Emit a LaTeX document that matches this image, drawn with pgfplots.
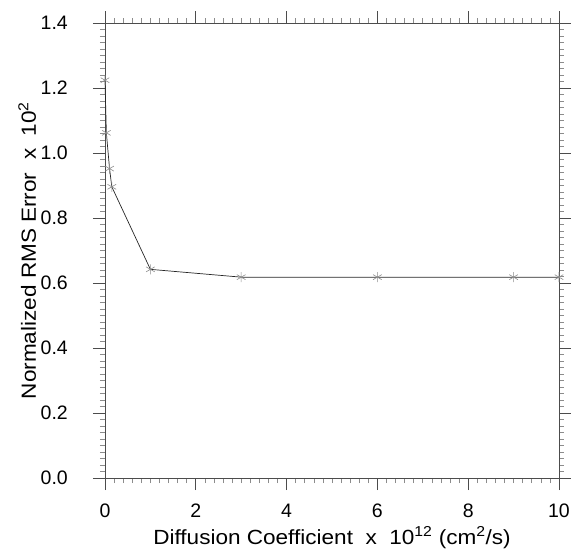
\documentclass[border=0pt]{standalone}
\usepackage{fontspec}
\setmainfont{Liberation Sans}
\newfontfamily\labelfont[FakeStretch=1.1]{Liberation Sans}
\usepackage{pgfplots}
\pgfplotsset{compat=1.18}
\begin{document}
\begin{tikzpicture}
\begin{axis}[
  scale only axis, width=454pt, height=455pt,
  xmin=0, xmax=10, ymin=0, ymax=1.4,
  xtick={0,2,4,6,8,10},
  ytick={0,0.2,0.4,0.6,0.8,1.0,1.2,1.4},
  minor x tick num=9, minor y tick num=9,
  tick align=outside,
  major tick length=12pt, minor tick length=5pt,
  every major tick/.append style={black!70, line width=0.8pt},
  every minor tick/.append style={black!45, line width=0.6pt},
  axis line style={black!70, line width=0.9pt},
  /pgf/number format/assume math mode=true,
  ticklabel style={font=\fontsize{19.5}{19.5}\selectfont, inner sep=0pt},
  xticklabel style={anchor=base, yshift=-27pt},
  yticklabel style={anchor=east, xshift=-25pt},
  yticklabel={\pgfmathprintnumber[fixed,fixed zerofill,precision=1]{\tick}},
  xticklabel={\pgfmathprintnumber[fixed,precision=0]{\tick}},
  label style={font=\labelfont\fontsize{20.5}{20.5}\selectfont, inner sep=0pt},
  xlabel style={at={([yshift=-66pt]axis description cs:0.5,0)}, anchor=base},
  ylabel style={at={([xshift=-69pt]axis description cs:0,0.5)}, anchor=base},
  xlabel={Diffusion Coefficient\ \ x\ \ 10\textsuperscript{12} (cm\textsuperscript{2}/s)},
  ylabel={Normalized RMS Error\ \ x\ \ 10\textsuperscript{2}},
]
\addplot[black!85, line width=0.7pt, mark=asterisk, mark size=5pt,
  mark options={black!45, line width=0.6pt}]
  coordinates {
  (0,1.224) (0.03,1.062) (0.1,0.952) (0.15,0.896) (1,0.642)
  (3,0.618) (6,0.618) (9,0.618) (10,0.618)
  };
\end{axis}
\pgfresetboundingbox
\path ([shift={(-105pt,-80pt)}]current axis.south west) rectangle ([shift={(12pt,23pt)}]current axis.north east);
\end{tikzpicture}
\end{document}
